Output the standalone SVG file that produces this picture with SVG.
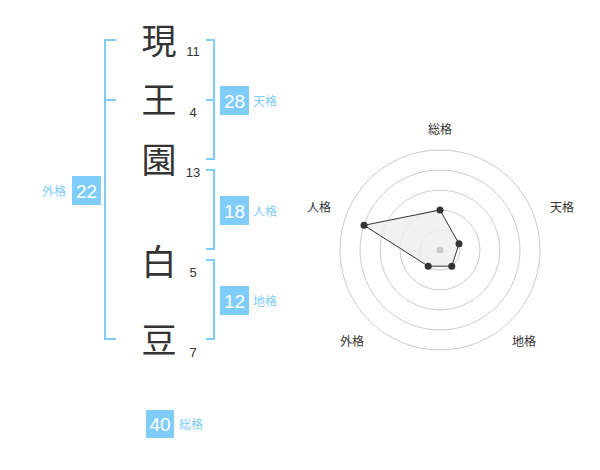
<svg xmlns="http://www.w3.org/2000/svg" width="600" height="470" viewBox="0 0 600 470">
<style>
.ch{font-family:"Noto Sans CJK JP","Noto Sans CJK SC",sans-serif;font-size:35px;fill:#333;text-anchor:middle}
.num{font-family:"Liberation Sans",Arial,sans-serif;font-size:13px;fill:#333;text-anchor:middle}
.br{fill:none;stroke:#80ccf8;stroke-width:2}
.box{fill:#80ccf8}
.bn{font-family:"Liberation Sans",Arial,sans-serif;font-size:19px;fill:#fff;text-anchor:middle}
.lb{font-family:"Noto Sans CJK JP","Noto Sans CJK SC",sans-serif;font-size:12px;fill:#80ccf8}
.rl{font-family:"Noto Sans CJK JP","Noto Sans CJK SC",sans-serif;font-size:12px;fill:#333;text-anchor:middle}
.ring{fill:none;stroke:#ccc;stroke-width:1}
.pt{fill:#333}
</style>
<rect width="600" height="470" fill="#fff"/>
<g id="chars">
<g id="c1"><text class="ch" x="159" y="54">現</text><text class="num" x="193" y="56">11</text></g>
<g id="c2"><text class="ch" x="159" y="113">王</text><text class="num" x="193" y="117">4</text></g>
<g id="c3"><text class="ch" x="159" y="173">園</text><text class="num" x="193" y="177">13</text></g>
<g id="c4"><text class="ch" x="159" y="275">白</text><text class="num" x="193" y="277">5</text></g>
<g id="c5"><text class="ch" x="159" y="353">豆</text><text class="num" x="193" y="357">7</text></g>
</g>
<g id="connectors">
<path class="br" d="M116,40 H105 V339 H116 M105,100 H116"/>
<path class="br" d="M206,40 H214 V159 H206 M206,100 H214"/>
<path class="br" d="M206,170 H214 V249 H206"/>
<path class="br" d="M206,260 H214 V339 H206"/>
</g>
<g id="tenkaku"><rect class="box" x="220" y="86" width="29" height="29"/><text class="bn" x="234.5" y="107.5">28</text><text class="lb" x="253" y="106">天格</text></g>
<g id="jinkaku"><rect class="box" x="220" y="196" width="29" height="29"/><text class="bn" x="234.5" y="217.5">18</text><text class="lb" x="253" y="216">人格</text></g>
<g id="chikaku"><rect class="box" x="220" y="286" width="29" height="29"/><text class="bn" x="234.5" y="307.5">12</text><text class="lb" x="253" y="306">地格</text></g>
<g id="gaikaku"><rect class="box" x="72" y="176" width="29" height="29"/><text class="bn" x="86.5" y="197.5">22</text><text class="lb" x="66" y="196" text-anchor="end">外格</text></g>
<g id="soukaku"><rect class="box" x="146" y="410" width="28" height="28"/><text class="bn" x="160" y="431">40</text><text class="lb" x="179" y="429">総格</text></g>
<g id="radar">
<circle class="ring" cx="440" cy="250" r="20"/>
<circle class="ring" cx="440" cy="250" r="40"/>
<circle class="ring" cx="440" cy="250" r="60"/>
<circle class="ring" cx="440" cy="250" r="80"/>
<circle class="ring" cx="440" cy="250" r="100"/>
<polygon points="440,210 459,243.8 451.8,266.2 428.2,266.2 364,225.3" fill="#eee" fill-opacity="0.8" stroke="#333" stroke-width="1"/>
<circle cx="440" cy="250" r="3.5" fill="#ccc"/>
<circle class="pt" cx="440" cy="210" r="3.5"/>
<circle class="pt" cx="459" cy="243.8" r="3.5"/>
<circle class="pt" cx="451.8" cy="266.2" r="3.5"/>
<circle class="pt" cx="428.2" cy="266.2" r="3.5"/>
<circle class="pt" cx="364" cy="225.3" r="3.5"/>
<text class="rl" x="440" y="134">総格</text>
<text class="rl" x="562" y="212">天格</text>
<text class="rl" x="319" y="212">人格</text>
<text class="rl" x="352" y="346">外格</text>
<text class="rl" x="524" y="346">地格</text>
</g>
</svg>
